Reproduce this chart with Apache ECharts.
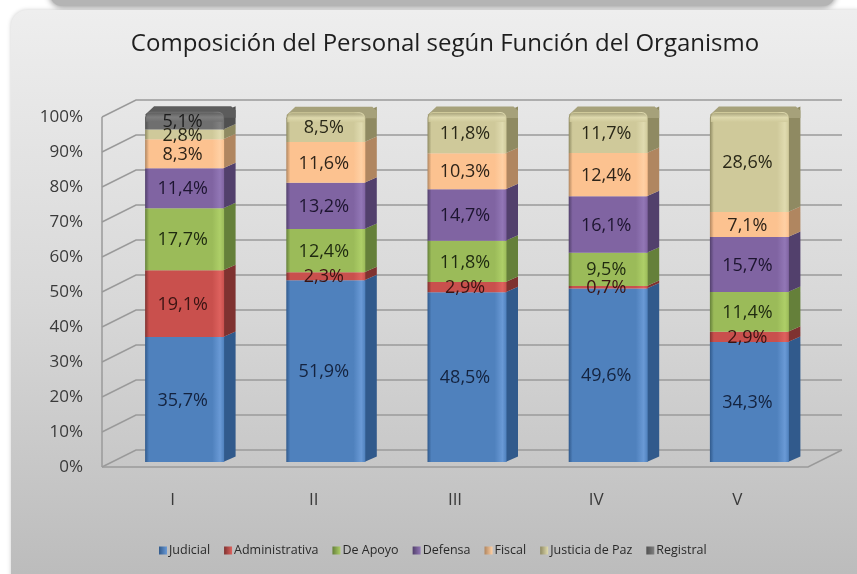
<!DOCTYPE html>
<html>
<head>
<meta charset="utf-8">
<style>
  html, body { margin: 0; padding: 0; background: #fff; }
  #main { width: 857px; height: 574px; }
</style>
<script src="https://cdn.jsdelivr.net/npm/echarts@6/dist/echarts.min.js"></script>
</head>
<body>
<div id="main"></div>
<script>
const categories = ['I', 'II', 'III', 'IV', 'V'];
const seriesNames = ['Judicial', 'Administrativa', 'De Apoyo', 'Defensa', 'Fiscal', 'Justicia de Paz', 'Registral'];
const judicial = [35.7, 51.9, 48.5, 49.6, 34.3];
const administrativa = [19.1, 2.3, 2.9, 0.7, 2.9];
const deApoyo = [17.7, 12.4, 11.8, 9.5, 11.4];
const defensa = [11.4, 13.2, 14.7, 16.1, 15.7];
const fiscal = [8.3, 11.6, 10.3, 12.4, 7.1];
const justiciaDePaz = [2.8, 8.5, 11.8, 11.7, 28.6];
const registral = [5.1, 0, 0, 0, 0];
const yTicks = [0, 10, 20, 30, 40, 50, 60, 70, 80, 90, 100];

const seriesValues = [judicial, administrativa, deApoyo, defensa, fiscal, justiciaDePaz, registral];

// front, highlight, side, top
const palette = [
  ['#4f81bd', '#6a9ad6', '#315a8c', '#3f6a9e'],
  ['#c9504d', '#de625e', '#7f3230', '#964240'],
  ['#9bbb59', '#aecf68', '#65803a', '#7c9647'],
  ['#8064a2', '#9277b6', '#52406c', '#66508a'],
  ['#fcc290', '#ffd0a4', '#b08660', '#c89c74'],
  ['#cfc99a', '#e0dbb0', '#8f8a62', '#a6a17a'],
  ['#6f6f6f', '#808080', '#505050', '#5c5c5c']
];
const textColors = ['#14233f', '#3a1413', '#1f2a10', '#1d1530', '#2e2419', '#2a2818', '#1c1c1c'];

const myChart = echarts.init(document.getElementById('main'), null, { renderer: 'canvas' });

// depth of the fake 3d box, in pixels from the front plane of the grid
const BAR_DX = 12;
const BAR_DY = -5;
const WALL_DX = 34;
const WALL_DY = -17;
const SIDE_DX = 11.5;
const SIDE_DY = -5.5;
const BAR_W = 79;

function stackBase(s, c) {
  let sum = 0;
  for (let i = 0; i < s; i++) sum += seriesValues[i][c];
  return sum;
}

function isLast(s, c) {
  for (let i = s + 1; i < seriesValues.length; i++) {
    if (seriesValues[i][c] > 0) return false;
  }
  return true;
}

function renderBar(params, api) {
  const s = params.seriesIndex - 1;
  const c = api.value(0);
  const val = api.value(1);
  if (!val) return;
  const base = stackBase(s, c);
  const p0 = api.coord([c, base]);
  const p1 = api.coord([c, base + val]);
  const x0 = p0[0] + BAR_DX - BAR_W / 2;
  const x1 = x0 + BAR_W;
  const y0 = p0[1] + BAR_DY;
  const y1 = p1[1] + BAR_DY;
  const col = palette[s];
  const children = [];

  children.push({
    type: 'polygon',
    shape: { points: [[x1 - 1, y0], [x1 + SIDE_DX, y0 + SIDE_DY], [x1 + SIDE_DX, y1 + SIDE_DY], [x1 - 1, y1]] },
    style: { fill: col[2] }
  });

  const last = isLast(s, c);
  if (last) {
    children.push({
      type: 'polygon',
      shape: {
        points: [[x0, y1 + 3], [x0 + 9, y1 + SIDE_DY], [x1 + 7, y1 + SIDE_DY], [x1 + SIDE_DX, y1 + SIDE_DY + 4], [x1 + SIDE_DX, y1 + 6], [x0 + 4, y1 + 6]]
      },
      style: { fill: col[3] }
    });
  }

  children.push({
    type: 'rect',
    shape: { x: x0, y: y1, width: x1 - x0, height: y0 - y1, r: last ? [6, 6, 0, 0] : 0 },
    style: {
      fill: new echarts.graphic.LinearGradient(0, 0, 1, 0, [
        { offset: 0, color: col[2] },
        { offset: 0.05, color: col[0] },
        { offset: 0.85, color: col[0] },
        { offset: 0.95, color: col[1] },
        { offset: 1, color: col[0] }
      ])
    }
  });

  if (last) {
    // soft bevel along the top edge of the stack
    children.push({
      type: 'rect',
      shape: { x: x0 + 1, y: y1 + 1, width: x1 - x0 - 2, height: 9, r: [5, 5, 0, 0] },
      style: {
        fill: new echarts.graphic.LinearGradient(0, 0, 0, 1, [
          { offset: 0, color: col[3] },
          { offset: 0.5, color: col[1] },
          { offset: 1, color: col[0] }
        ]),
        opacity: 0.85
      }
    });
  }

  return { type: 'group', children: children };
}

// labels go in their own series so thin segments are not covered by the next one
function renderLabel(params, api) {
  const s = api.value(0);
  const c = api.value(1);
  const val = api.value(2);
  if (!val) return;
  const base = stackBase(s, c);
  const p = api.coord([c, base + val / 2]);
  return {
    type: 'text',
    style: {
      x: p[0] + BAR_DX - 2,
      y: p[1] + BAR_DY + 1,
      text: val.toFixed(1).replace('.', ',') + '%',
      fill: textColors[s],
      font: '18px "Open Sans", sans-serif',
      align: 'center',
      verticalAlign: 'middle'
    }
  };
}

// walls and floor, drawn from the same value scale as the bars
function renderWalls(params, api) {
  const v = api.value(0);
  const y = api.coord([0, v])[1];
  const x0 = params.coordSys.x;
  const x1 = x0 + params.coordSys.width;
  const line = { stroke: '#9a9a9a', lineWidth: 1.5, fill: null };
  const children = [{
    type: 'polyline',
    shape: { points: [[x0, y], [x0 + WALL_DX, y + WALL_DY], [x1 + WALL_DX, y + WALL_DY]] },
    style: line
  }];
  if (v === 0) {
    children.push({
      type: 'polyline',
      shape: { points: [[x0, y], [x1, y], [x1 + WALL_DX, y + WALL_DY]] },
      style: line
    });
    children.push({
      type: 'line',
      shape: { x1: x0, y1: y, x2: x0, y2: y - params.coordSys.height },
      style: line
    });
  }
  return { type: 'group', children: children };
}

const barSeries = seriesNames.map((name, s) => ({
  name: name,
  type: 'custom',
  coordinateSystem: 'cartesian2d',
  renderItem: renderBar,
  clip: false,
  z: 3 + s,
  encode: { x: 0, y: 1 },
  data: seriesValues[s].map((v, c) => [c, v]),
  itemStyle: {
    color: new echarts.graphic.LinearGradient(0, 0, 1, 0, [
      { offset: 0, color: palette[s][2] },
      { offset: 1, color: palette[s][1] }
    ])
  }
}));

const labelData = [];
seriesValues.forEach((vals, s) => {
  vals.forEach((v, c) => labelData.push([s, c, v]));
});

const option = {
  backgroundColor: '#ffffff',
  animation: false,
  graphic: [
    {
      type: 'rect',
      z: -10,
      shape: { x: 50, y: -30, width: 785, height: 36, r: 12 },
      style: { fill: '#b4b4b4', shadowBlur: 6, shadowOffsetY: 1, shadowColor: 'rgba(0,0,0,0.45)' }
    },
    {
      type: 'rect',
      z: -9,
      shape: { x: 11, y: 10, width: 862, height: 582, r: 16 },
      style: {
        fill: new echarts.graphic.LinearGradient(0, 0, 0, 1, [
          { offset: 0, color: '#eeeeee' },
          { offset: 0.5, color: '#d8d8d8' },
          { offset: 0.97, color: '#bcbcbc' }
        ]),
        shadowBlur: 4,
        shadowColor: 'rgba(0,0,0,0.2)'
      }
    }
  ],
  title: {
    text: 'Composición del Personal según Función del Organismo',
    left: 440,
    top: 27,
    textAlign: 'center',
    textStyle: { fontFamily: 'Open Sans', fontSize: 24, fontWeight: 'normal', color: '#1e1e1e' }
  },
  legend: {
    data: seriesNames,
    bottom: 12,
    left: 154,
    itemWidth: 8,
    itemHeight: 8,
    itemGap: 14,
    icon: 'rect',
    textStyle: { fontFamily: 'Open Sans', fontSize: 12.5, color: '#2a2a2a', padding: [0, 0, 0, -3] }
  },
  grid: { left: 102, top: 117, width: 706, height: 350 },
  xAxis: {
    type: 'category',
    data: categories,
    axisLine: { show: false },
    axisTick: { show: false },
    axisLabel: { margin: 25, fontFamily: 'Open Sans', fontSize: 17, color: '#3a3a3a' }
  },
  yAxis: {
    type: 'value',
    min: 0,
    max: 100,
    interval: 10,
    axisLine: { show: false },
    axisTick: { show: false },
    splitLine: { show: false },
    axisLabel: { margin: 19, fontFamily: 'Open Sans', fontSize: 17, color: '#3a3a3a', formatter: '{value}%' }
  },
  series: [
    {
      type: 'custom',
      coordinateSystem: 'cartesian2d',
      renderItem: renderWalls,
      clip: false,
      silent: true,
      z: 1,
      encode: { y: 0 },
      data: yTicks.map((v) => [v])
    }
  ].concat(barSeries, [
    {
      type: 'custom',
      coordinateSystem: 'cartesian2d',
      renderItem: renderLabel,
      clip: false,
      silent: true,
      z: 20,
      data: labelData
    }
  ])
};

myChart.setOption(option);
</script>
</body>
</html>
